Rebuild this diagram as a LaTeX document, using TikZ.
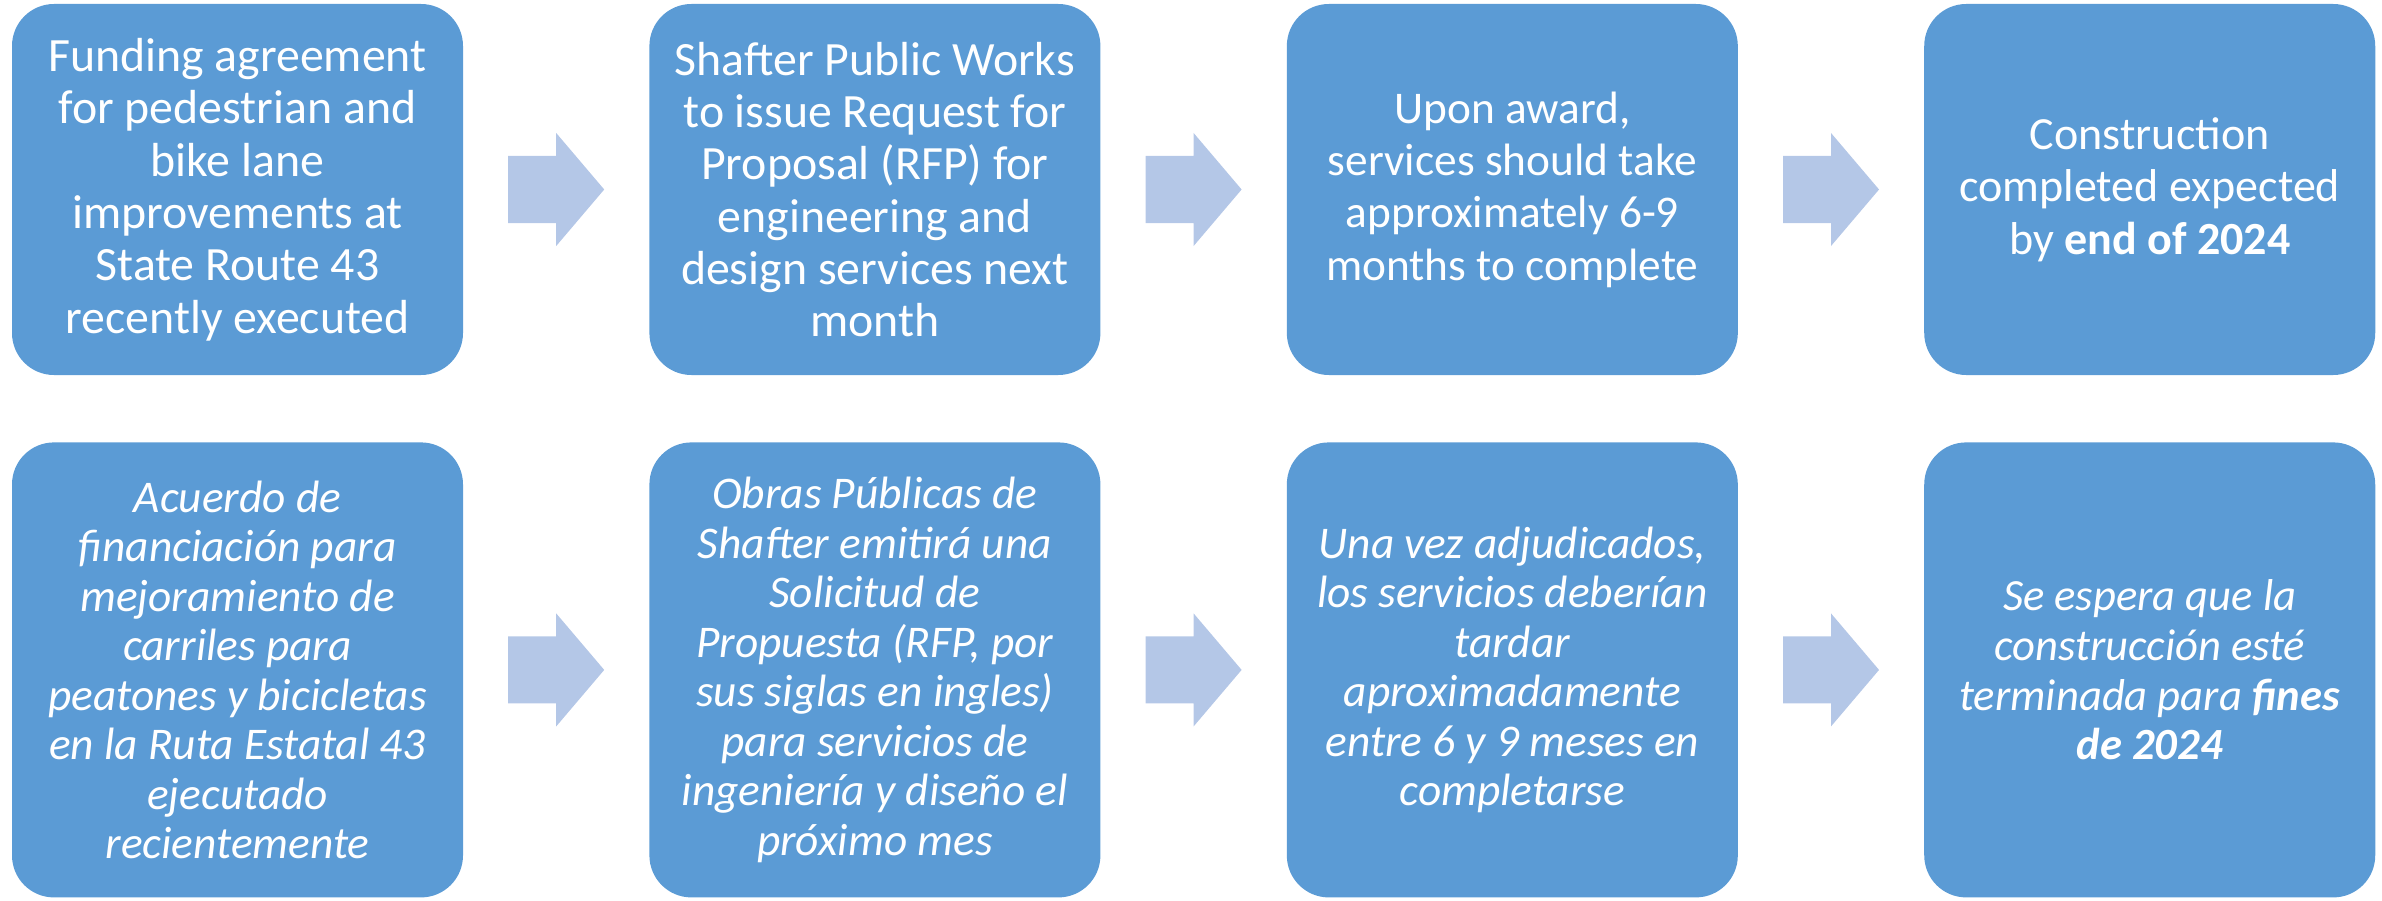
\documentclass[tikz,border=0pt]{standalone}
\usepackage{fontspec}
\setmainfont{Carlito}
\usepackage{xcolor}
\usepackage{tikz}
\usetikzlibrary{calc,positioning}
\definecolor{boxblue}{HTML}{5B9BD5}
\definecolor{arrowblue}{HTML}{B4C7E7}
\tikzset{
  stepbox/.style={draw=none, fill=boxblue, text=white, rounded corners=0.42cm,
    minimum width=4.51cm, align=center, inner sep=0pt},
  toprow/.style={stepbox, minimum height=3.71cm, font=\fontsize{13.6}{14.9}\selectfont},
  lowrow/.style={stepbox, minimum height=4.55cm, font=\fontsize{12.9}{14.1}\selectfont\itshape},
  flow/.style={fill=arrowblue, draw=none}
}
\newcommand{\StepArrow}[2]{%
  % #1 = left box, #2 = right box
  \coordinate (mid) at ($(#1.east)!0.5!(#2.west)$);
  \fill[flow] ($(mid)+(-0.48,0.335)$) -- ($(mid)+(0,0.335)$) -- ($(mid)+(0,0.565)$)
    -- ($(mid)+(0.48,0)$) -- ($(mid)+(0,-0.565)$) -- ($(mid)+(0,-0.335)$)
    -- ($(mid)+(-0.48,-0.335)$) -- cycle;
}

\begin{document}
\begin{tikzpicture}[node distance=1.85cm]
  \useasboundingbox (0,0) rectangle (23.82,-9.01);
  % english row
  \node[toprow] (en1) at (2.375,-1.895) {Funding agreement\\for pedestrian and\\bike lane\\improvements at\\State Route 43\\recently executed};
  \node[toprow, right=of en1] (en2) {Shafter Public Works\\to issue Request for\\Proposal (RFP) for\\engineering and\\design services next\\month};
  \node[toprow, right=of en2, font=\fontsize{12.9}{14.9}\selectfont] (en3) {Upon award,\\services should take\\approximately 6-9\\months to complete};
  \node[toprow, right=of en3, font=\fontsize{13.1}{14.9}\selectfont] (en4) {Construction\\completed expected\\by \textbf{end of 2024}};
  % spanish row
  \node[lowrow, below=0.66cm of en1] (es1) {Acuerdo de\\financiación para\\mejoramiento de\\carriles para\\peatones y bicicletas\\en la Ruta Estatal 43\\ejecutado\\recientemente};
  \node[lowrow, below=0.66cm of en2] (es2) {Obras Públicas de\\Shafter emitirá una\\Solicitud de\\Propuesta (RFP, por\\sus siglas en ingles)\\para servicios de\\ingeniería y diseño el\\próximo mes};
  \node[lowrow, below=0.66cm of en3] (es3) {Una vez adjudicados,\\los servicios deberían\\tardar\\aproximadamente\\entre 6 y 9 meses en\\completarse};
  \node[lowrow, below=0.66cm of en4, font=\fontsize{12.7}{14.1}\selectfont\itshape] (es4) {Se espera que la\\construcción esté\\terminada para \textbf{fines}\\\textbf{de 2024}};
  \StepArrow{en1}{en2}
  \StepArrow{en2}{en3}
  \StepArrow{en3}{en4}
  \StepArrow{es1}{es2}
  \StepArrow{es2}{es3}
  \StepArrow{es3}{es4}
\end{tikzpicture}
\end{document}
